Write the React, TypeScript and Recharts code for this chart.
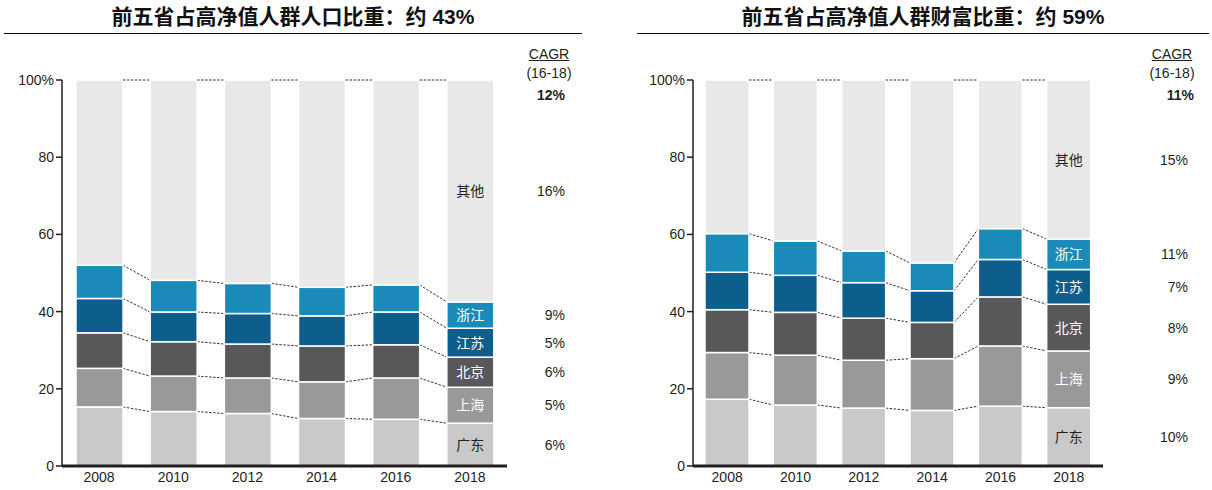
import { BarChart, Bar, XAxis, YAxis, LabelList } from "recharts";

const years = ["2008", "2010", "2012", "2014", "2016", "2018"];
const regionKeys = ["gd", "sh", "bj", "js", "zj", "qt"];
const regionNames = ["广东", "上海", "北京", "江苏", "浙江", "其他"];
const regionColors = ["#c9c9c9", "#999999", "#58575a", "#0d5e8c", "#1a8ab8", "#e8e8e8"];
const labelColors = ["#231f20", "#ffffff", "#ffffff", "#ffffff", "#ffffff", "#231f20"];
const yTicks = [0, 20, 40, 60, 80, 100];

// 人口比重 (%)
const popGuangdong = [15.3, 14.1, 13.6, 12.3, 12.1, 11.1];
const popShanghai = [10.0, 9.2, 9.2, 9.5, 10.7, 9.3];
const popBeijing = [9.2, 8.9, 8.8, 9.3, 8.6, 7.8];
const popJiangsu = [8.9, 7.7, 7.9, 7.8, 8.5, 7.5];
const popZhejiang = [8.6, 8.2, 7.8, 7.4, 7.0, 6.8];
const popOther = [48.0, 51.9, 52.7, 53.7, 53.1, 57.5];
const popCagr = ["6%", "5%", "6%", "5%", "9%", "16%"];
const popCagrTotal = "12%";

// 财富比重 (%)
const wealthGuangdong = [17.3, 15.8, 15.0, 14.4, 15.5, 15.1];
const wealthShanghai = [12.1, 12.9, 12.4, 13.4, 15.6, 14.7];
const wealthBeijing = [11.1, 11.1, 10.9, 9.4, 12.7, 12.1];
const wealthJiangsu = [9.7, 9.6, 9.2, 8.2, 9.7, 9.0];
const wealthZhejiang = [10.0, 8.9, 8.2, 7.2, 8.0, 7.9];
const wealthOther = [39.8, 41.7, 44.3, 47.4, 38.5, 41.2];
const wealthCagr = ["10%", "9%", "8%", "7%", "11%", "15%"];
const wealthCagrTotal = "11%";

const popSeries = [popGuangdong, popShanghai, popBeijing, popJiangsu, popZhejiang, popOther];
const wealthSeries = [wealthGuangdong, wealthShanghai, wealthBeijing, wealthJiangsu, wealthZhejiang, wealthOther];

const FONT = "'Liberation Sans', Arial, 'Noto Sans CJK SC', sans-serif";
const INK = "#231f20";

const buildRows = (series: number[][]) =>
  years.map((year, i) => {
    const row: Record<string, any> = { year };
    regionKeys.forEach((k, s) => (row[k] = series[s][i]));
    return row;
  });

const cumulative = (series: number[][], s: number, i: number) => {
  let total = 0;
  for (let j = 0; j <= s; j++) total += series[j][i];
  return total;
};

// bar segment + dashed connector to the same boundary on the next bar
const makeShape = (series: number[][], s: number, bandSize: number) => (props: any) => {
  const { x, y, width, height, index } = props;
  const own = series[s][index];
  const low = cumulative(series, s, index) - own;
  const k = height / own;
  const zero = y + height + low * k;
  let line = null;
  if (index < years.length - 1) {
    const nextTop = cumulative(series, s, index + 1);
    line = (
      <line
        x1={x + width}
        y1={y}
        x2={x + bandSize}
        y2={zero - nextTop * k}
        stroke="#333"
        strokeWidth={1}
        strokeDasharray="2.5 1.5"
      />
    );
  }
  return (
    <g>
      <rect x={x} y={y} width={width} height={height} fill={regionColors[s]} stroke="#fff" strokeWidth={1.5} />
      {line}
    </g>
  );
};

const makeLabel = (s: number, cagr: string[], cagrRight: number) => (props: any) => {
  const { x, y, width, height, index } = props;
  if (index !== years.length - 1) return null;
  const cy = Number(y) + Number(height) / 2;
  return (
    <g>
      <text
        x={Number(x) + Number(width) / 2}
        y={cy}
        textAnchor="middle"
        dominantBaseline="central"
        fill={labelColors[s]}
        fontSize={14}
        fontFamily={FONT}
      >
        {regionNames[s]}
      </text>
      <text x={cagrRight} y={cy} textAnchor="end" dominantBaseline="central" fill={INK} fontSize={14} fontFamily={FONT}>
        {cagr[s]}
      </text>
    </g>
  );
};

type PanelProps = {
  series: number[][];
  cagr: string[];
  marginLeft: number;
  marginRight: number;
  barSize: number;
  cagrRight: number;
};

const W = 606;
const H = 490;
const Y_AXIS_W = 40;

const Panel = ({ series, cagr, marginLeft, marginRight, barSize, cagrRight }: PanelProps) => {
  const plotWidth = W - marginLeft - marginRight - Y_AXIS_W;
  const bandSize = plotWidth / years.length;
  return (
    <BarChart
      width={W}
      height={H}
      data={buildRows(series)}
      margin={{ top: 80, right: marginRight, bottom: 4, left: marginLeft }}
      barSize={barSize}
    >
      <XAxis
        dataKey="year"
        tickLine={false}
        axisLine={{ stroke: INK, strokeWidth: 3 }}
        tick={{ fill: INK, fontSize: 14, fontFamily: FONT }}
        tickSize={2}
        tickMargin={4}
        height={20}
      />
      <YAxis
        width={Y_AXIS_W}
        domain={[0, 100]}
        ticks={yTicks}
        interval={0}
        axisLine={{ stroke: INK, strokeWidth: 1.5 }}
        tickLine={{ stroke: INK, strokeWidth: 1.5 }}
        tickSize={6}
        tickMargin={2}
        tick={{ fill: INK, fontSize: 14, fontFamily: FONT }}
        tickFormatter={(v: number) => (v === 100 ? "100%" : String(v))}
      />
      {regionKeys.map((k, s) => (
        <Bar
          key={k}
          dataKey={k}
          stackId="a"
          fill={regionColors[s]}
          isAnimationActive={false}
          shape={makeShape(series, s, bandSize)}
        >
          <LabelList dataKey={k} content={makeLabel(s, cagr, cagrRight)} />
        </Bar>
      ))}
    </BarChart>
  );
};

const abs = (style: React.CSSProperties): React.CSSProperties => ({ position: "absolute", ...style });

const Header = ({ left, width, title }: { left: number; width: number; title: string }) => (
  <>
    <div
      style={abs({
        left,
        width,
        top: 4,
        height: 26,
        lineHeight: "26px",
        textAlign: "center",
        fontSize: 21,
        fontWeight: "bold",
        color: "#111",
        fontFamily: FONT,
      })}
    >
      {title}
    </div>
    <div style={abs({ left, width, top: 33, height: 1, background: "#111" })} />
  </>
);

const CagrHead = ({ center, right, total }: { center: number; right: number; total: string }) => (
  <>
    <div style={abs({ left: center - 40, width: 80, top: 46, lineHeight: "16px", fontSize: 14, textAlign: "center", color: INK, fontFamily: FONT, textDecoration: "underline" })}>
      CAGR
    </div>
    <div style={abs({ left: center - 40, width: 80, top: 65, lineHeight: "16px", fontSize: 14, textAlign: "center", color: INK, fontFamily: FONT })}>
      (16-18)
    </div>
    <div style={abs({ left: right - 80, width: 80, top: 87, lineHeight: "16px", fontSize: 14, fontWeight: "bold", textAlign: "right", color: INK, fontFamily: FONT })}>
      {total}
    </div>
  </>
);

export default function App() {
  return (
    <div style={abs({ left: 0, top: 0, width: 1212, height: 490, background: "#fff", overflow: "hidden" })}>
      <Header left={4} width={578} title="前五省占高净值人群人口比重：约 43%" />
      <Header left={637} width={572} title="前五省占高净值人群财富比重：约 59%" />
      <CagrHead center={549} right={565} total={popCagrTotal} />
      <CagrHead center={1172} right={1194} total={wealthCagrTotal} />
      <div style={abs({ left: 0, top: 0 })}>
        <Panel series={popSeries} cagr={popCagr} marginLeft={22} marginRight={99} barSize={47} cagrRight={565} />
      </div>
      <div style={abs({ left: 606, top: 0 })}>
        <Panel series={wealthSeries} cagr={wealthCagr} marginLeft={47} marginRight={109} barSize={44} cagrRight={1188 - 606} />
      </div>
    </div>
  );
}
